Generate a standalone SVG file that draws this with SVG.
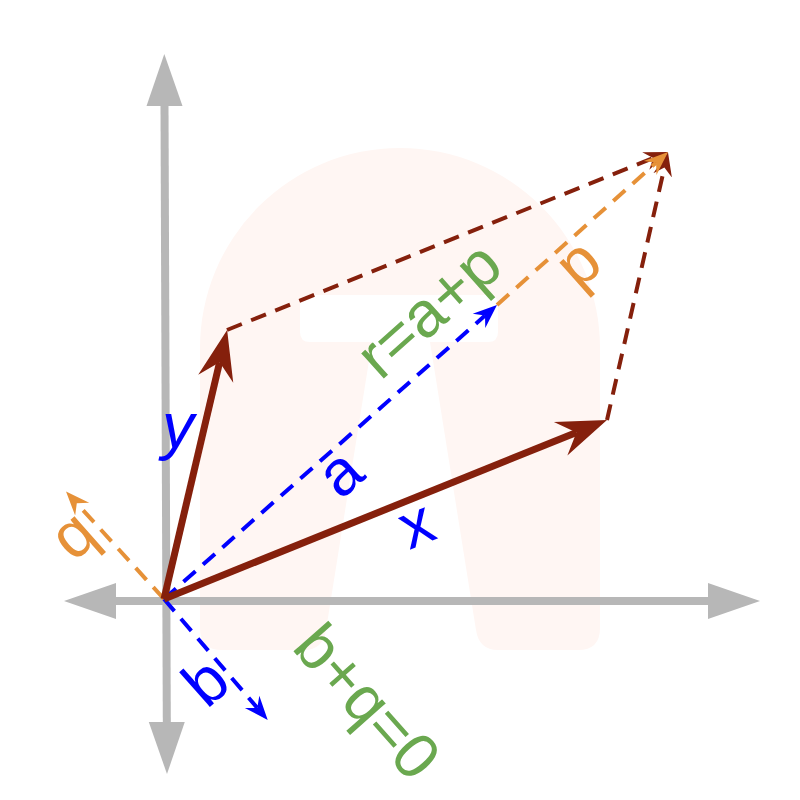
<svg xmlns="http://www.w3.org/2000/svg" width="800" height="800" viewBox="0 0 800 800">
  <style>
    .axis { stroke: #b7b7b7; stroke-width: 8; fill: none; }
    .vec { stroke: #85200c; stroke-width: 7; fill: none; }
    .dash { stroke-width: 4; fill: none; stroke-dasharray: 16 10; }
    .red { stroke: #85200c; }
    .blue { stroke: #0000ff; }
    .orange { stroke: #e69138; }
    text { font-family: "Liberation Sans", Arial, sans-serif; font-size: 64px; text-anchor: middle; }
    .tblue { fill: #0000ff; }
    .tgreen { fill: #6aa84f; }
    .torange { fill: #e69138; }
  </style>
  <defs>
    <marker id="axisHead" viewBox="0 -20 54 40" refX="0" refY="0" markerWidth="54" markerHeight="40" markerUnits="userSpaceOnUse" orient="auto-start-reverse">
      <path d="M0,-18 L52,0 L0,18 Z" fill="#b7b7b7"/>
    </marker>
    <marker id="bigRed" viewBox="0 -20 52 40" refX="17" refY="0" markerWidth="52" markerHeight="40" markerUnits="userSpaceOnUse" orient="auto">
      <path d="M50,0 L0,-18 L17,0 L0,18 Z" fill="#85200c"/>
    </marker>
    <marker id="smallRed" viewBox="0 -11 26 22" refX="8" refY="0" markerWidth="26" markerHeight="22" markerUnits="userSpaceOnUse" orient="auto">
      <path d="M24,0 L0,-9.5 L8,0 L0,9.5 Z" fill="#85200c"/>
    </marker>
    <marker id="smallBlue" viewBox="0 -11 26 22" refX="8" refY="0" markerWidth="26" markerHeight="22" markerUnits="userSpaceOnUse" orient="auto">
      <path d="M24,0 L0,-9.5 L8,0 L0,9.5 Z" fill="#0000ff"/>
    </marker>
    <marker id="smallOrange" viewBox="0 -11 26 22" refX="8" refY="0" markerWidth="26" markerHeight="22" markerUnits="userSpaceOnUse" orient="auto">
      <path d="M24,0 L0,-9.5 L8,0 L0,9.5 Z" fill="#e69138"/>
    </marker>
  </defs>

  <rect width="800" height="800" fill="#ffffff"/>

  <g id="background-logo">
    <path fill="#fff6f3" d="M200,348 A200,200 0 0 1 600,348 L600,628 Q600,650 578,650 L498,650 Q479,650 476,630 L430,342 L488,342 Q498,342 498,332 L498,305 Q498,295 488,295 L310,295 Q300,295 300,305 L300,332 Q300,342 310,342 L372,342 L326,630 Q323,650 304,650 L222,650 Q200,650 200,628 Z"/>
  </g>

  <g id="axes">
    <line class="axis" x1="116" y1="601" x2="708" y2="601" marker-start="url(#axisHead)" marker-end="url(#axisHead)"/>
    <line class="axis" x1="164.5" y1="106" x2="166.8" y2="722" marker-start="url(#axisHead)" marker-end="url(#axisHead)"/>
  </g>

  <g id="connectors">
    <line class="dash red" x1="227" y1="330" x2="653.2" y2="158" marker-end="url(#smallRed)"/>
    <line class="dash red" x1="607" y1="420" x2="664.4" y2="167.6" marker-end="url(#smallRed)"/>
    <line class="dash orange" x1="497" y1="305" x2="656.1" y2="162.7" marker-end="url(#smallOrange)"/>
    <line class="dash blue" x1="164" y1="599" x2="485" y2="315.6" marker-end="url(#smallBlue)"/>
    <line class="dash orange" x1="164" y1="599" x2="76.8" y2="503.3" marker-end="url(#smallOrange)"/>
    <line class="dash blue" x1="164" y1="599" x2="257.3" y2="707.9" marker-end="url(#smallBlue)"/>
    <line class="vec" x1="164" y1="599" x2="219.6" y2="362.2" marker-end="url(#bigRed)"/>
    <line class="vec" x1="164" y1="599" x2="576.4" y2="432.4" marker-end="url(#bigRed)"/>
  </g>

  <g id="label-y"><text class="tblue" x="178" y="448" font-style="italic">y</text></g>
  <g id="label-x"><text class="tblue" transform="translate(424,544) rotate(-22)">x</text></g>
  <g id="label-a"><text class="tblue" transform="translate(354,489) rotate(-41.6)">a</text></g>
  <g id="label-r"><text class="tgreen" transform="translate(443,326) rotate(-41.6)">r=a+p</text></g>
  <g id="label-p"><text class="torange" transform="translate(592,279) rotate(-41.6)">p</text></g>
  <g id="label-q"><text class="torange" transform="translate(87,551) rotate(-41.6)">q</text></g>
  <g id="label-b"><text class="tblue" transform="translate(220,698) rotate(-41.6)">b</text></g>
  <g id="label-bq"><text class="tgreen" transform="translate(351,716) rotate(48.4)">b+q=0</text></g>
</svg>
